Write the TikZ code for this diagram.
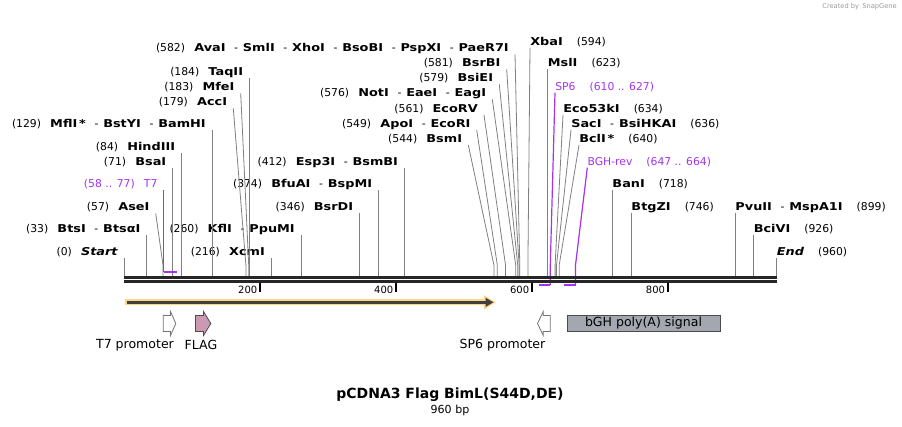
\documentclass[tikz,border=0pt]{standalone}
\usepackage{fontspec}
\setmainfont{DejaVu Sans}[BoldFeatures={FakeStretch=1.19},BoldItalicFeatures={FakeStretch=1.19}]
\newfontfamily\titlefont{DejaVu Sans}
\usetikzlibrary{arrows.meta}

\definecolor{cutgray}{RGB}{128,128,128}
\definecolor{primer}{RGB}{165,50,240}
\definecolor{halo}{RGB}{255,212,130}
\definecolor{flagpink}{RGB}{204,153,181}
\definecolor{polyagray}{RGB}{163,168,176}

\newcommand{\sitesep}{\hspace{0.8em}-\hspace{0.45em}}
\newcommand{\lgap}{\hspace{0.85em}}
\newcommand{\rgap}{\hspace{1.3em}}

\tikzset{
  lbl/.style={font=\fontsize{8.1}{9}\selectfont, inner sep=0pt},
  lft/.style={lbl, anchor=base east},
  rgt/.style={lbl, anchor=base west},
  ruler/.style={font=\fontsize{7.5}{9}\selectfont, inner sep=0pt, anchor=base east},
  cut/.style={draw=cutgray, line width=0.6pt},
  prm/.style={draw=primer, line width=0.9pt},
  bar/.style={draw=black!85, line width=2pt},
  feat/.style={font=\fontsize{9.4}{11}\selectfont, inner sep=0pt},
}

\begin{document}
\begin{tikzpicture}[x=0.75pt, y=-0.75pt]
\useasboundingbox (0,0) rectangle (902,426);

% sites on the sequence
\coordinate (s0) at (124.3,276);
\coordinate (s33) at (146.7,276);
\coordinate (s57) at (163.0,276);
\coordinate (s71) at (172.5,276);
\coordinate (s84) at (181.4,276);
\coordinate (s129) at (212.0,276);
\coordinate (s179) at (245.9,276);
\coordinate (s183) at (248.7,276);
\coordinate (s184) at (249.3,276);
\coordinate (s216) at (271.1,276);
\coordinate (s260) at (301.0,276);
\coordinate (s346) at (359.4,276);
\coordinate (s374) at (378.4,276);
\coordinate (s412) at (404.3,276);
\coordinate (s544) at (493.9,276);
\coordinate (s549) at (497.3,276);
\coordinate (s561) at (505.5,276);
\coordinate (s576) at (515.7,276);
\coordinate (s579) at (517.7,276);
\coordinate (s581) at (519.1,276);
\coordinate (s582) at (519.8,276);
\coordinate (s594) at (527.9,276);
\coordinate (s623) at (547.6,276);
\coordinate (s634) at (555.1,276);
\coordinate (s636) at (556.5,276);
\coordinate (s640) at (559.2,276);
\coordinate (s718) at (612.2,276);
\coordinate (s746) at (631.2,276);
\coordinate (s899) at (735.2,276);
\coordinate (s926) at (753.5,276);
\coordinate (s960) at (776.6,276);
% primer ends
\coordinate (pt7a) at (163.7,272);
\coordinate (pt7b) at (176.6,272);
\coordinate (psp6a) at (538.8,285);
\coordinate (psp6b) at (550.3,285);
\coordinate (pbgha) at (563.9,285);
\coordinate (pbghb) at (575.5,285);

% labels left of their lines
\node[lft] (start) at (118.3,255.3) {(0)\lgap\textbf{\textit{Start}}};
\node[lft] (btsi) at (140.7,232.6) {(33)\lgap\textbf{BtsI}\sitesep\textbf{BtsαI}};
\node[lft] (asei) at (149.7,210.9) {(57)\lgap\textbf{AseI}};
\node[lft, text=primer] (t7) at (157.7,187.6) {(58 .. 77)\lgap T7};
\node[lft] (bsai) at (166.5,165.9) {(71)\lgap\textbf{BsaI}};
\node[lft] (hindiii) at (175.4,150.3) {(84)\lgap\textbf{HindIII}};
\node[lft] (bamhi) at (206,127.6) {(129)\lgap\textbf{MflI\,*}\sitesep\textbf{BstYI}\sitesep\textbf{BamHI}};
\node[lft] (acci) at (227.3,105.9) {(179)\lgap\textbf{AccI}};
\node[lft] (mfei) at (234.7,90.9) {(183)\lgap\textbf{MfeI}};
\node[lft] (taqii) at (243.3,75.9) {(184)\lgap\textbf{TaqII}};
\node[lft] (xcmi) at (265.1,255.3) {(216)\lgap\textbf{XcmI}};
\node[lft] (kfli) at (295,232.6) {(260)\lgap\textbf{KflI}\sitesep\textbf{PpuMI}};
\node[lft] (bsrdi) at (353.4,210.9) {(346)\lgap\textbf{BsrDI}};
\node[lft] (bfuai) at (372.4,187.6) {(374)\lgap\textbf{BfuAI}\sitesep\textbf{BspMI}};
\node[lft] (esp3i) at (398.3,165.9) {(412)\lgap\textbf{Esp3I}\sitesep\textbf{BsmBI}};
\node[lft] (bsmi) at (462.3,142.6) {(544)\lgap\textbf{BsmI}};
\node[lft] (ecori) at (470.7,127.6) {(549)\lgap\textbf{ApoI}\sitesep\textbf{EcoRI}};
\node[lft] (ecorv) at (478,112.6) {(561)\lgap\textbf{EcoRV}};
\node[lft] (noti) at (486.3,96.9) {(576)\lgap\textbf{NotI}\sitesep\textbf{EaeI}\sitesep\textbf{EagI}};
\node[lft] (bsiei) at (493.3,81.9) {(579)\lgap\textbf{BsiEI}};
\node[lft] (bsrbi) at (500.7,66.9) {(581)\lgap\textbf{BsrBI}};
\node[lft] (avai) at (509,51.9) {(582)\lgap\textbf{AvaI}\sitesep\textbf{SmlI}\sitesep\textbf{XhoI}\sitesep\textbf{BsoBI}\sitesep\textbf{PspXI}\sitesep\textbf{PaeR7I}};

% labels right of their lines
\node[rgt] (xbai) at (530,45.6) {\textbf{XbaI}\rgap(594)};
\node[rgt] (msli) at (547.6,66.9) {\textbf{MslI}\rgap(623)};
\node[rgt, text=primer] (sp6) at (555,90.3) {SP6\rgap(610 .. 627)};
\node[rgt] (eco53ki) at (563,112.6) {\textbf{Eco53kI}\rgap(634)};
\node[rgt] (saci) at (571,127.6) {\textbf{SacI}\sitesep\textbf{BsiHKAI}\rgap(636)};
\node[rgt] (bcli) at (579,142.6) {\textbf{BclI\,*}\rgap(640)};
\node[rgt, text=primer] (bghrev) at (587.3,165.3) {BGH-rev\rgap(647 .. 664)};
\node[rgt] (bani) at (612.2,187.6) {\textbf{BanI}\rgap(718)};
\node[rgt] (btgzi) at (631.2,210.9) {\textbf{BtgZI}\rgap(746)};
\node[rgt] (pvuii) at (735.2,210.9) {\textbf{PvuII}\sitesep\textbf{MspA1I}\rgap(899)};
\node[rgt] (bcivi) at (753.5,232.6) {\textbf{BciVI}\rgap(926)};
\node[rgt] (seqend) at (776.6,255.3) {\textbf{\textit{End}}\rgap(960)};

% cut lines
\draw[cut] (s0) -- ([shift={(6,2.4)}]start.base east);
\draw[cut] (s33) -- ([shift={(6,2.4)}]btsi.base east);
\draw[cut] (s57) -- ++(0,-11) -- ([shift={(6,2.4)}]asei.base east);
\draw[cut] (s71) -- ([shift={(6,2.4)}]bsai.base east);
\draw[cut] (s84) -- ([shift={(6,2.4)}]hindiii.base east);
\draw[cut] (s129) -- ([shift={(6,2.4)}]bamhi.base east);
\draw[cut] (s179) -- ++(0,-11) -- ([shift={(6,2.4)}]acci.base east);
\draw[cut] (s183) -- ++(0,-11) -- ([shift={(6,2.4)}]mfei.base east);
\draw[cut] (s184) -- ([shift={(6,2.4)}]taqii.base east);
\draw[cut] (s216) -- ([shift={(6,2.4)}]xcmi.base east);
\draw[cut] (s260) -- ([shift={(6,2.4)}]kfli.base east);
\draw[cut] (s346) -- ([shift={(6,2.4)}]bsrdi.base east);
\draw[cut] (s374) -- ([shift={(6,2.4)}]bfuai.base east);
\draw[cut] (s412) -- ([shift={(6,2.4)}]esp3i.base east);
\draw[cut] (s544) -- ++(0,-11) -- ([shift={(6,2.4)}]bsmi.base east);
\draw[cut] (s549) -- ++(0,-11) -- ([shift={(6,2.4)}]ecori.base east);
\draw[cut] (s561) -- ++(0,-11) -- ([shift={(6,2.4)}]ecorv.base east);
\draw[cut] (s576) -- ++(0,-11) -- ([shift={(6,2.4)}]noti.base east);
\draw[cut] (s579) -- ++(0,-11) -- ([shift={(6,2.4)}]bsiei.base east);
\draw[cut] (s581) -- ++(0,-11) -- ([shift={(6,2.4)}]bsrbi.base east);
\draw[cut] (s582) -- ++(0,-11) -- ([shift={(6,2.4)}]avai.base east);
\draw[cut] (s594) -- ++(0,-11) -- ([shift={(0,2.4)}]xbai.base west);
\draw[cut] (s623) -- ([shift={(0,2.4)}]msli.base west);
\draw[cut] (s634) -- ++(0,-11) -- ([shift={(0,2.4)}]eco53ki.base west);
\draw[cut] (s636) -- ++(0,-11) -- ([shift={(0,2.4)}]saci.base west);
\draw[cut] (s640) -- ++(0,-11) -- ([shift={(0,2.4)}]bcli.base west);
\draw[cut] (s718) -- ([shift={(0,2.4)}]bani.base west);
\draw[cut] (s746) -- ([shift={(0,2.4)}]btgzi.base west);
\draw[cut] (s899) -- ([shift={(0,2.4)}]pvuii.base west);
\draw[cut] (s926) -- ([shift={(0,2.4)}]bcivi.base west);
\draw[cut] (s960) -- ([shift={(0,2.4)}]seqend.base west);

% primers
\draw[prm] (pt7a) -- ([shift={(6,2.4)}]t7.base east);
\draw[prm, line width=1.5pt] (pt7a) -- (pt7b);
\draw[prm] (psp6b) -- ++(0,-20) -- ([shift={(0,2.4)}]sp6.base west);
\draw[prm, line width=1.5pt] (psp6a) -- (psp6b);
\draw[prm] (pbghb) -- ++(0,-20) -- ([shift={(0,2.4)}]bghrev.base west);
\draw[prm, line width=1.5pt] (pbgha) -- (pbghb);

% sequence and ruler
\draw[bar] (124.3,277.3) -- (777,277.3);
\draw[bar] (124.3,281.5) -- (777,281.5);
\draw[black, line width=1.1pt] (260.2,283) -- (260.2,292);
\draw[black, line width=1.1pt] (396.2,283) -- (396.2,292);
\draw[black, line width=1.1pt] (532.1,283) -- (532.1,292);
\draw[black, line width=1.1pt] (668,283) -- (668,292);
\node[ruler] (r200) at (257.5,293) {200};
\node[ruler] (r400) at (393.5,293) {400};
\node[ruler] (r600) at (529.4,293) {600};
\node[ruler] (r800) at (665.3,293) {800};

% open reading frame
\draw[halo, line width=4.5pt, -{Triangle[length=9pt,width=10pt]}] (125.3,302.3) -- (496,302.3);
\draw[black!75, line width=2pt, -{Triangle[length=6pt,width=6.5pt]}] (126.8,302.3) -- (493.5,302.3);

% features
\draw[draw=black!55, fill=white, line width=0.6pt] (163.3,315.5) -- (170.5,315.5) -- (170.5,311.5) -- (175.8,323.5) -- (170.5,335.5) -- (170.5,331.5) -- (163.3,331.5) -- cycle;
\draw[draw=black!70, fill=flagpink, line width=0.6pt] (195.5,315.5) -- (203.5,315.5) -- (203.5,311.5) -- (210.8,323.5) -- (203.5,335.5) -- (203.5,331.5) -- (195.5,331.5) -- cycle;
\draw[draw=black!55, fill=white, line width=0.6pt] (550.3,315.5) -- (543.3,315.5) -- (543.3,311.5) -- (537.5,323.5) -- (543.3,335.5) -- (543.3,331.5) -- (550.3,331.5) -- cycle;
\node[feat, draw=black!70, fill=polyagray, line width=0.6pt, minimum width=114.75pt, minimum height=12pt] (bgh) at (643.5,323) {bGH poly(A) signal};
\node[feat] (t7prom) at (135,345) {T7 promoter};
\node[feat] (flag) at (201,345) {FLAG};
\node[feat] (sp6prom) at (502.5,345) {SP6 promoter};

% title
\node[font=\titlefont\bfseries\fontsize{10.5}{12}\selectfont, inner sep=0pt] (title) at (450,395) {pCDNA3 Flag BimL(S44D,DE)};
\node[font=\fontsize{8.3}{10}\selectfont, inner sep=0pt] (size) at (450,410) {960 bp};
\node[font=\fontsize{5}{6}\selectfont, text=black!40, anchor=east, inner sep=0pt] (credit) at (897,7) {Created by\enspace SnapGene};
\end{tikzpicture}
\end{document}
